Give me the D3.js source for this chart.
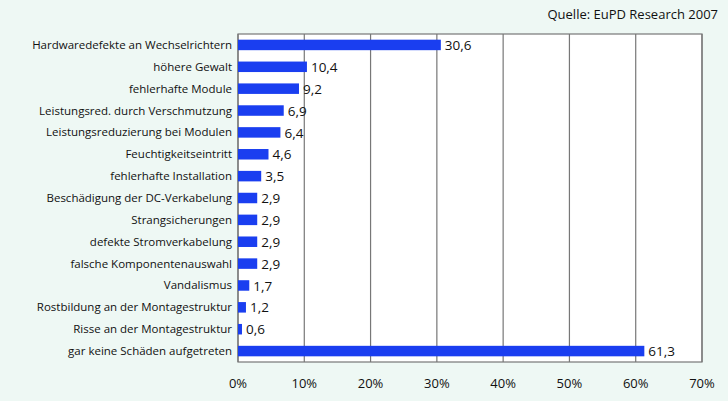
<!DOCTYPE html>
<html><head><meta charset="utf-8">
<script src="https://cdn.jsdelivr.net/npm/d3@7"></script>
<style>body{margin:0;background:#eef8f4}svg{display:block;font-family:"Open Sans",sans-serif}</style>
</head><body><div id="chart"></div>
<script>
var categories = ["Hardwaredefekte an Wechselrichtern","höhere Gewalt","fehlerhafte Module","Leistungsred. durch Verschmutzung","Leistungsreduzierung bei Modulen","Feuchtigkeitseintritt","fehlerhafte Installation","Beschädigung der DC-Verkabelung","Strangsicherungen","defekte Stromverkabelung","falsche Komponentenauswahl","Vandalismus","Rostbildung an der Montagestruktur","Risse an der Montagestruktur","gar keine Schäden aufgetreten"];
var values = [30.6,10.4,9.2,6.9,6.4,4.6,3.5,2.9,2.9,2.9,2.9,1.7,1.2,0.6,61.3];
var ticks = [0,10,20,30,40,50,60,70];

var svg = d3.select("#chart").append("svg").attr("width",728).attr("height",401);
var plotL = 238, plotR = 702, plotT = 34, plotB = 362;
var x = d3.scaleLinear().domain([0,70]).range([plotL,plotR]);
var y = d3.scaleBand().domain(categories).range([plotT,plotB]).paddingInner(0.52).paddingOuter(0.26);

svg.append("text").attr("x",718).attr("y",19).attr("text-anchor","end")
  .attr("font-size",13).attr("fill","#111").text("Quelle: EuPD Research 2007");

svg.append("rect").attr("x",plotL).attr("y",plotT).attr("width",plotR-plotL).attr("height",plotB-plotT)
  .attr("fill","#fff").attr("stroke","#777").attr("stroke-width",1.2);

svg.selectAll("line.grid").data(ticks).enter().append("line")
  .attr("x1",d=>x(d)).attr("x2",d=>x(d)).attr("y1",plotT).attr("y2",plotB)
  .attr("stroke","#777").attr("stroke-width",1.2);

svg.selectAll("text.tick").data(ticks).enter().append("text")
  .attr("x",d=>x(d)).attr("y",388).attr("text-anchor","middle")
  .attr("font-size",13).attr("fill","#111").text(d=>d+"%");

svg.selectAll("text.cat").data(categories).enter().append("text")
  .attr("x",plotL-6).attr("y",d=>y(d)+y.bandwidth()/2).attr("dy","0.35em")
  .attr("text-anchor","end").attr("font-size",11.5).attr("fill","#111").text(d=>d);

svg.selectAll("rect.bar").data(values).enter().append("rect")
  .attr("x",x(0)).attr("y",(d,i)=>y(categories[i]))
  .attr("width",d=>x(d)-x(0)).attr("height",y.bandwidth()).attr("fill","#1a3ef0");

svg.selectAll("text.val").data(values).enter().append("text")
  .attr("x",d=>x(d)+4).attr("y",(d,i)=>y(categories[i])+y.bandwidth()/2).attr("dy","0.38em")
  .attr("font-size",13.5).attr("fill","#111").text(d=>d.toFixed(1).replace(".",","));
</script></body></html>
